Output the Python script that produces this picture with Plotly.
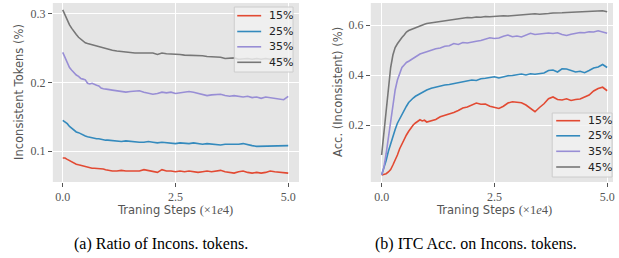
import plotly.graph_objects as go

steps = [0.00, 0.05, 0.10, 0.15, 0.20, 0.25, 0.30, 0.35, 0.40, 0.45, 0.50,
         0.55, 0.60, 0.65, 0.70, 0.75, 0.80, 0.85, 0.90, 0.95, 1.00,
         1.1, 1.2, 1.3, 1.4, 1.5, 1.6, 1.7, 1.8, 1.9, 2.0,
         2.1, 2.2, 2.3, 2.4, 2.5, 2.6, 2.7, 2.8, 2.9, 3.0,
         3.1, 3.2, 3.3, 3.4, 3.5, 3.6, 3.7, 3.8, 3.9, 4.0,
         4.1, 4.2, 4.3, 4.4, 4.5, 4.6, 4.7, 4.8, 4.9, 5.0]

labels = ["15%", "25%", "35%", "45%"]
colors = ["#E24A33", "#348ABD", "#988ED5", "#777777"]

# (a) Ratio of inconsistent tokens
ratio_15 = [0.090, 0.090, 0.088, 0.086, 0.084, 0.083, 0.081, 0.080, 0.079, 0.078, 0.077,
            0.076, 0.075, 0.075, 0.075, 0.075, 0.075, 0.074, 0.074, 0.073, 0.072,
            0.071, 0.071, 0.072, 0.071, 0.071, 0.072, 0.071, 0.073, 0.072, 0.070,
            0.069, 0.073, 0.071, 0.071, 0.070, 0.071, 0.070, 0.071, 0.070, 0.069,
            0.070, 0.071, 0.070, 0.071, 0.072, 0.070, 0.069, 0.068, 0.070, 0.071,
            0.069, 0.068, 0.069, 0.068, 0.069, 0.071, 0.070, 0.069, 0.068, 0.068]
ratio_25 = [0.145, 0.143, 0.140, 0.136, 0.133, 0.130, 0.128, 0.127, 0.125, 0.123, 0.122,
            0.121, 0.120, 0.119, 0.119, 0.118, 0.118, 0.117, 0.117, 0.116, 0.116,
            0.115, 0.115, 0.114, 0.115, 0.114, 0.114, 0.113, 0.113, 0.114, 0.113,
            0.112, 0.113, 0.112, 0.112, 0.111, 0.112, 0.111, 0.111, 0.112, 0.111,
            0.110, 0.111, 0.110, 0.110, 0.109, 0.110, 0.110, 0.109, 0.110, 0.111,
            0.109, 0.108, 0.107, 0.107, 0.108, 0.107, 0.108, 0.107, 0.108, 0.108]
ratio_35 = [0.244, 0.236, 0.228, 0.222, 0.218, 0.214, 0.211, 0.209, 0.206, 0.205, 0.204,
            0.199, 0.198, 0.199, 0.197, 0.196, 0.195, 0.192, 0.191, 0.191, 0.190,
            0.189, 0.188, 0.187, 0.186, 0.187, 0.188, 0.188, 0.186, 0.185, 0.183,
            0.184, 0.186, 0.185, 0.186, 0.184, 0.185, 0.186, 0.187, 0.186, 0.184,
            0.183, 0.181, 0.182, 0.182, 0.183, 0.181, 0.180, 0.181, 0.180, 0.179,
            0.180, 0.178, 0.179, 0.177, 0.179, 0.178, 0.178, 0.177, 0.175, 0.180]
ratio_45 = [0.306, 0.298, 0.290, 0.284, 0.279, 0.274, 0.270, 0.266, 0.263, 0.260, 0.258,
            0.257, 0.256, 0.255, 0.255, 0.253, 0.252, 0.252, 0.250, 0.249, 0.248,
            0.247, 0.246, 0.245, 0.244, 0.244, 0.243, 0.243, 0.243, 0.244, 0.243,
            0.241, 0.243, 0.242, 0.242, 0.241, 0.241, 0.240, 0.240, 0.239, 0.239,
            0.239, 0.238, 0.238, 0.237, 0.237, 0.235, 0.235, 0.236, 0.234, 0.235,
            0.235, 0.234, 0.235, 0.234, 0.235, 0.234, 0.235, 0.234, 0.236, 0.235]

# (b) ITC accuracy on inconsistent tokens
acc_15 = [0.000, 0.001, 0.005, 0.012, 0.022, 0.040, 0.058, 0.080, 0.105, 0.125, 0.143,
          0.160, 0.175, 0.188, 0.200, 0.208, 0.214, 0.221, 0.216, 0.219, 0.212,
          0.218, 0.222, 0.233, 0.238, 0.245, 0.250, 0.258, 0.268, 0.272, 0.280,
          0.288, 0.283, 0.284, 0.275, 0.272, 0.266, 0.275, 0.288, 0.293, 0.290,
          0.289, 0.280, 0.265, 0.253, 0.270, 0.285, 0.305, 0.312, 0.302, 0.300,
          0.305, 0.298, 0.302, 0.304, 0.312, 0.320, 0.336, 0.346, 0.351, 0.337]
acc_25 = [0.000, 0.025, 0.058, 0.095, 0.127, 0.155, 0.182, 0.207, 0.225, 0.245, 0.260,
          0.275, 0.290, 0.300, 0.308, 0.315, 0.320, 0.328, 0.332, 0.336, 0.340,
          0.347, 0.352, 0.357, 0.360, 0.362, 0.366, 0.369, 0.372, 0.377, 0.380,
          0.378, 0.385, 0.387, 0.389, 0.393, 0.388, 0.394, 0.397, 0.398, 0.402,
          0.404, 0.400, 0.405, 0.403, 0.405, 0.408, 0.418, 0.420, 0.412, 0.425,
          0.424, 0.418, 0.412, 0.415, 0.409, 0.418, 0.428, 0.432, 0.442, 0.430]
acc_35 = [0.000, 0.030, 0.085, 0.153, 0.215, 0.275, 0.340, 0.380, 0.410, 0.430, 0.440,
          0.450, 0.455, 0.460, 0.466, 0.470, 0.478, 0.484, 0.487, 0.490, 0.494,
          0.498, 0.505, 0.508, 0.515, 0.517, 0.526, 0.522, 0.530, 0.528, 0.530,
          0.535, 0.538, 0.542, 0.549, 0.546, 0.548, 0.555, 0.560, 0.553, 0.556,
          0.552, 0.560, 0.567, 0.562, 0.565, 0.567, 0.568, 0.566, 0.569, 0.562,
          0.558, 0.563, 0.568, 0.570, 0.569, 0.573, 0.572, 0.577, 0.572, 0.567]
acc_45 = [0.080, 0.170, 0.270, 0.350, 0.430, 0.480, 0.510, 0.525, 0.540, 0.550, 0.560,
          0.572, 0.578, 0.582, 0.584, 0.590, 0.594, 0.598, 0.601, 0.603, 0.606,
          0.609, 0.612, 0.615, 0.616, 0.620, 0.622, 0.625, 0.628, 0.630, 0.629,
          0.632, 0.631, 0.634, 0.633, 0.635, 0.634, 0.637, 0.636, 0.638, 0.640,
          0.642, 0.641, 0.643, 0.645, 0.643, 0.646, 0.646, 0.648, 0.647, 0.649,
          0.650, 0.651, 0.650, 0.652, 0.651, 0.654, 0.653, 0.656, 0.657, 0.653]

ratio_series = [ratio_15, ratio_25, ratio_35, ratio_45]
acc_series = [acc_15, acc_25, acc_35, acc_45]

x_ticks = [0.0, 2.5, 5.0]
x_ticktext = ["0.0", "2.5", "5.0"]
ratio_ticks = [0.1, 0.2, 0.3]
acc_ticks = [0.2, 0.4, 0.6]

W, H = 619, 258
fig = go.Figure()

for name, ys, c in zip(labels, ratio_series, colors):
    fig.add_trace(go.Scatter(x=steps, y=ys, mode="lines", name=name,
                             line=dict(color=c, width=1.6),
                             xaxis="x", yaxis="y", showlegend=False))
for name, ys, c in zip(labels, acc_series, colors):
    fig.add_trace(go.Scatter(x=steps, y=ys, mode="lines", name=name,
                             line=dict(color=c, width=1.6),
                             xaxis="x2", yaxis="y2", showlegend=False))

tickfont = dict(family="Liberation Serif, DejaVu Serif, serif", size=12, color="#555555")
common_ax = dict(showgrid=True, gridcolor="white", gridwidth=1, zeroline=False,
                 ticks="outside", ticklen=4, tickcolor="#555555", tickwidth=1,
                 tickfont=tickfont, showline=False)

def px_x(px):
    return px / W

def px_y(py):
    return 1 - py / H

fig.update_layout(
    width=W, height=H,
    margin=dict(l=0, r=0, t=0, b=0),
    paper_bgcolor="white",
    plot_bgcolor="#E5E5E5",
    showlegend=False,
    xaxis=dict(domain=[px_x(53), px_x(300)], range=[-0.22, 5.24],
               tickvals=x_ticks, ticktext=x_ticktext, anchor="y", **common_ax),
    yaxis=dict(domain=[px_y(182), px_y(3)], range=[0.055, 0.316],
               tickvals=ratio_ticks, ticktext=["0.1", "0.2", "0.3"], anchor="x", **common_ax),
    xaxis2=dict(domain=[px_x(372), px_x(615)], range=[-0.24, 5.13],
                tickvals=x_ticks, ticktext=x_ticktext, anchor="y2", **common_ax),
    yaxis2=dict(domain=[px_y(182), px_y(3)], range=[-0.028, 0.688],
                tickvals=acc_ticks, ticktext=["0.2", "0.4", "0.6"], anchor="x2", **common_ax),
)

title_font = dict(family="DejaVu Sans, sans-serif", size=11.5, color="#555555")
serif_span = '<span style="font-family:Liberation Serif, DejaVu Serif, serif;font-size:12.5px">'
xtitle = "Traning Steps " + serif_span + "(×1<i>e</i>4)</span>"

annotations = [
    dict(x=px_x(176), y=px_y(210), text=xtitle, showarrow=False,
         xref="paper", yref="paper", xanchor="center", yanchor="middle", font=title_font),
    dict(x=px_x(496), y=px_y(210), text=xtitle, showarrow=False,
         xref="paper", yref="paper", xanchor="center", yanchor="middle", font=title_font),
    dict(x=px_x(19), y=px_y(92), text="Inconsistent Tokens (%)", textangle=-90, showarrow=False,
         xref="paper", yref="paper", xanchor="center", yanchor="middle", font=title_font),
    dict(x=px_x(339), y=px_y(92), text="Acc. (Inconsistent) (%)", textangle=-90, showarrow=False,
         xref="paper", yref="paper", xanchor="center", yanchor="middle", font=title_font),
    dict(x=px_x(162), y=px_y(244), text="(a) Ratio of Incons. tokens.", showarrow=False,
         xref="paper", yref="paper", xanchor="center", yanchor="middle",
         font=dict(family="Liberation Serif, Times New Roman, serif", size=16, color="black")),
    dict(x=px_x(478), y=px_y(244), text="(b) ITC Acc. on Incons. tokens.", showarrow=False,
         xref="paper", yref="paper", xanchor="center", yanchor="middle",
         font=dict(family="Liberation Serif, Times New Roman, serif", size=16, color="black")),
]

shapes = []
legend_font = dict(family="DejaVu Sans, sans-serif", size=11, color="#222222")

def add_legend(box, line_x0, line_x1, text_x, rows_y):
    bx0, by0, bx1, by1 = box
    shapes.append(dict(type="rect", xref="paper", yref="paper",
                       x0=px_x(bx0), x1=px_x(bx1), y0=px_y(by1), y1=px_y(by0),
                       fillcolor="rgba(240,240,240,0.82)",
                       line=dict(color="#cccccc", width=1), layer="above"))
    for name, c, ry in zip(labels, colors, rows_y):
        shapes.append(dict(type="line", xref="paper", yref="paper",
                           x0=px_x(line_x0), x1=px_x(line_x1), y0=px_y(ry), y1=px_y(ry),
                           line=dict(color=c, width=1.6), layer="above"))
        annotations.append(dict(x=px_x(text_x), y=px_y(ry), text=name, showarrow=False,
                                xref="paper", yref="paper", xanchor="left", yanchor="middle",
                                font=legend_font))

add_legend((235, 7, 294, 72), 238, 262, 268, [15.7, 31.5, 46.8, 62.3])
add_legend((554, 113, 614, 177), 558, 582, 588, [120.7, 135.8, 151.3, 167])

fig.update_layout(annotations=annotations, shapes=shapes)

fig.write_html("out.html", config={"displayModeBar": False},
               post_script="document.body.style.margin='0';document.body.style.overflow='hidden';")
